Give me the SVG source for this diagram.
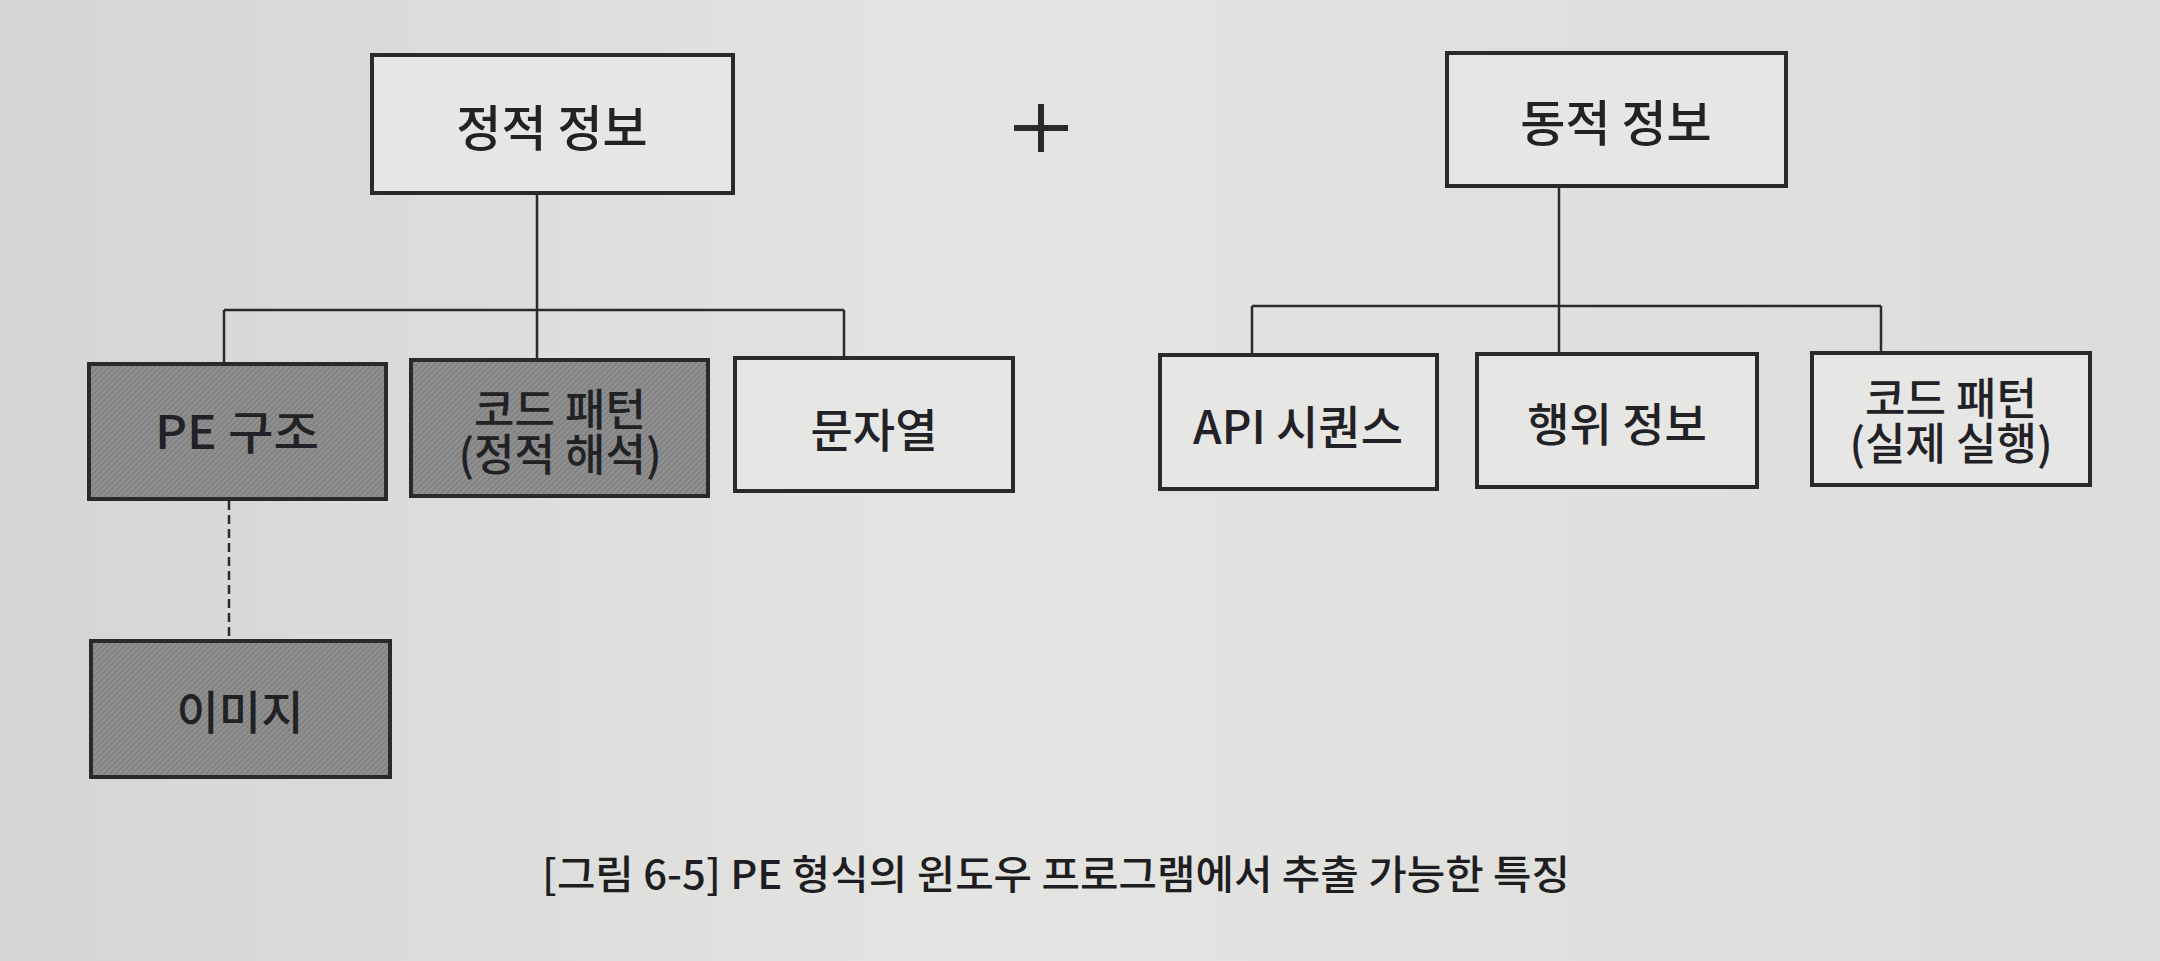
<svg xmlns="http://www.w3.org/2000/svg" width="2160" height="961" viewBox="0 0 2160 961">
  <defs>
    <linearGradient id="paper" x1="0" y1="0" x2="1" y2="0">
      <stop offset="0" stop-color="#d5d5d3"/>
      <stop offset="0.45" stop-color="#e4e4e2"/>
      <stop offset="1" stop-color="#dcdcda"/>
    </linearGradient>
    <pattern id="hatch" patternUnits="userSpaceOnUse" width="4" height="4" patternTransform="rotate(45)">
      <rect width="4" height="4" fill="#909090"/>
      <rect width="1.5" height="4" fill="#7e7e7e"/>
    </pattern>
    <style>
      .box { fill: #e6e6e4; stroke: #2a2a2e; stroke-width: 4; }
      .shaded { fill: url(#hatch); stroke: #2a2a2e; stroke-width: 4; }
      .lbl { font-family: "Noto Sans CJK KR", "Noto Sans", sans-serif; font-size: 46px; font-weight: 500; fill: #222226; text-anchor: middle; dominant-baseline: central; }
      .top { font-size: 49px; }
      .lbl2 { font-size: 44px; }
      .conn { stroke: #2b2b2f; stroke-width: 2.5; fill: none; }
      .dash { stroke: #2b2b2f; stroke-width: 2.5; fill: none; stroke-dasharray: 9 5; }
      .cap { font-family: "Noto Sans CJK KR", "Noto Sans", sans-serif; font-size: 40px; font-weight: 500; fill: #1e1e22; text-anchor: middle; dominant-baseline: central; }
    </style>
  </defs>
  <rect x="0" y="0" width="2160" height="961" fill="url(#paper)"/>

  <g id="connectors">
    <line class="conn" x1="537" y1="195" x2="537" y2="358"/>
    <line class="conn" x1="224" y1="310" x2="844" y2="310"/>
    <line class="conn" x1="224" y1="310" x2="224" y2="362"/>
    <line class="conn" x1="844" y1="310" x2="844" y2="356"/>
    <line class="conn" x1="1559" y1="188" x2="1559" y2="352"/>
    <line class="conn" x1="1252" y1="306" x2="1881" y2="306"/>
    <line class="conn" x1="1252" y1="306" x2="1252" y2="353"/>
    <line class="conn" x1="1881" y1="306" x2="1881" y2="351"/>
    <line class="dash" x1="229" y1="501" x2="229" y2="639"/>
  </g>

  <g id="plus">
    <line x1="1014" y1="128" x2="1068" y2="128" stroke="#2a2a2e" stroke-width="6"/>
    <line x1="1041" y1="104" x2="1041" y2="152" stroke="#2a2a2e" stroke-width="6"/>
  </g>

  <g id="static-info">
    <rect class="box" x="372" y="55" width="361" height="138"/>
    <text class="lbl top" x="552" y="124">정적 정보</text>
  </g>
  <g id="dynamic-info">
    <rect class="box" x="1447" y="53" width="339" height="133"/>
    <text class="lbl top" x="1616" y="119">동적 정보</text>
  </g>
  <g id="pe-structure">
    <rect class="shaded" x="89" y="364" width="297" height="135"/>
    <text class="lbl" x="237" y="429" textLength="164" lengthAdjust="spacingAndGlyphs">PE 구조</text>
  </g>
  <g id="code-pattern-static">
    <rect class="shaded" x="411" y="360" width="297" height="136"/>
    <text class="lbl lbl2"><tspan x="560" y="407">코드 패턴</tspan><tspan x="560" y="452">(정적 해석)</tspan></text>
  </g>
  <g id="strings">
    <rect class="box" x="735" y="358" width="278" height="133"/>
    <text class="lbl" x="874" y="427">문자열</text>
  </g>
  <g id="api-sequence">
    <rect class="box" x="1160" y="355" width="277" height="134"/>
    <text class="lbl" x="1298" y="424">API 시퀀스</text>
  </g>
  <g id="behavior-info">
    <rect class="box" x="1477" y="354" width="280" height="133"/>
    <text class="lbl" x="1617" y="421">행위 정보</text>
  </g>
  <g id="code-pattern-dynamic">
    <rect class="box" x="1812" y="353" width="278" height="132"/>
    <text class="lbl lbl2"><tspan x="1951" y="396">코드 패턴</tspan><tspan x="1951" y="441">(실제 실행)</tspan></text>
  </g>
  <g id="image">
    <rect class="shaded" x="91" y="641" width="299" height="136"/>
    <text class="lbl" x="240" y="709">이미지</text>
  </g>

  <g id="caption">
    <text class="cap" x="1056" y="872" textLength="1028" lengthAdjust="spacingAndGlyphs">[그림 6-5] PE 형식의 윈도우 프로그램에서 추출 가능한 특징</text>
  </g>
</svg>
